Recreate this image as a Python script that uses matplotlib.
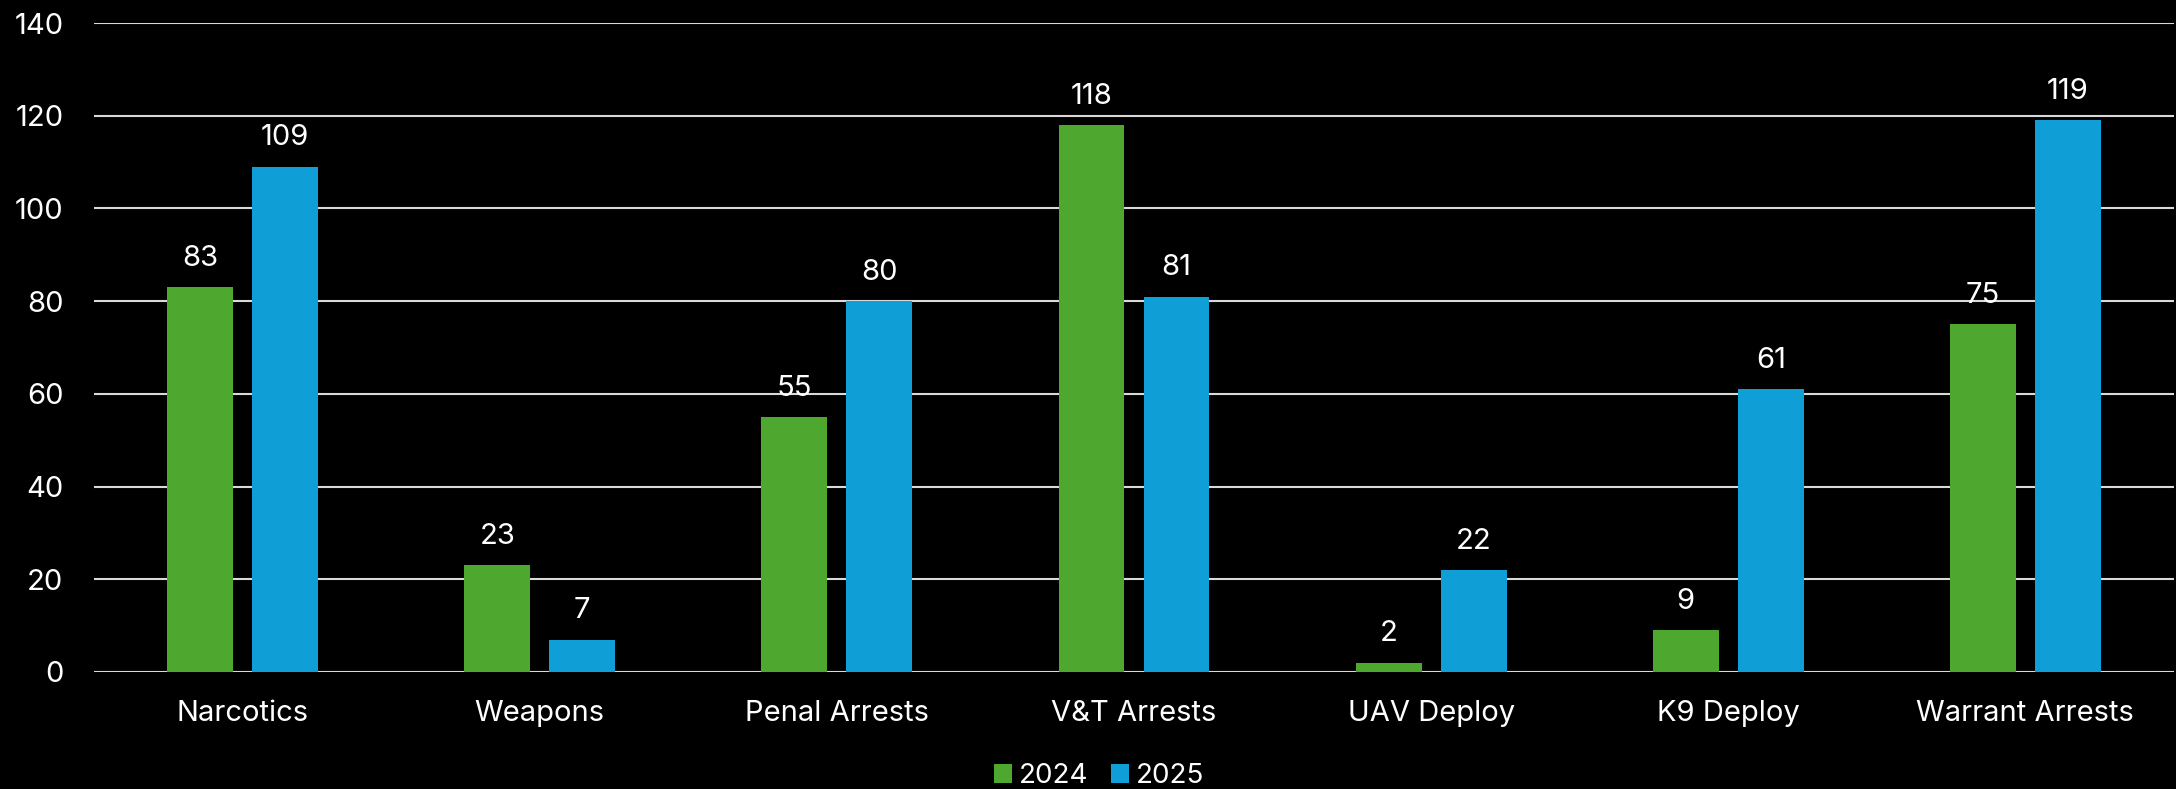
import matplotlib.pyplot as plt
import numpy as np

categories = ['Narcotics', 'Weapons', 'Penal Arrests', 'V&T Arrests', 'UAV Deploy', 'K9 Deploy', 'Warrant Arrests']
vals_2024 = [83, 23, 55, 118, 2, 9, 75]
vals_2025 = [109, 7, 80, 81, 22, 61, 119]
yticks = [0, 20, 40, 60, 80, 100, 120, 140]

plt.rcParams['font.family'] = ['Inter', 'DejaVu Sans']
green = '#4EA72E'
blue = '#0F9ED5'

fig = plt.figure(figsize=(21.76, 7.89), dpi=100, facecolor='black')
ax = fig.add_axes([94/2176, 1-672/789, (2174-94)/2176, (672-23)/789], facecolor='black')

x = np.arange(len(categories))
w = 0.222
off = (w + 0.064) / 2
b1 = ax.bar(x - off, vals_2024, w, color=green, label='2024', zorder=3)
b2 = ax.bar(x + off, vals_2025, w, color=blue, label='2025', zorder=3)
for bars in (b1, b2):
    ax.bar_label(bars, padding=11, color='white', fontsize=21)

ax.set_xlim(-0.5, len(categories) - 0.5)
ax.set_ylim(0, 140)
ax.set_yticks(yticks)
ax.set_xticks(x)
ax.set_xticklabels(categories)
ax.tick_params(axis='both', colors='white', labelsize=21, length=0)
ax.tick_params(axis='y', pad=22)
ax.tick_params(axis='x', pad=20)
ax.grid(axis='y', color='#d9d9d9', linewidth=1.5, zorder=0)
for s in ax.spines.values():
    s.set_visible(False)

leg = fig.legend(handles=[b1, b2], loc='lower center', bbox_to_anchor=(0.505, -0.032), ncol=2,
                 frameon=False, fontsize=20, labelcolor='white', handlelength=0.65,
                 handleheight=0.65, handletextpad=0.25, columnspacing=0.8)

fig.savefig('out.png', dpi=100, facecolor='black')
